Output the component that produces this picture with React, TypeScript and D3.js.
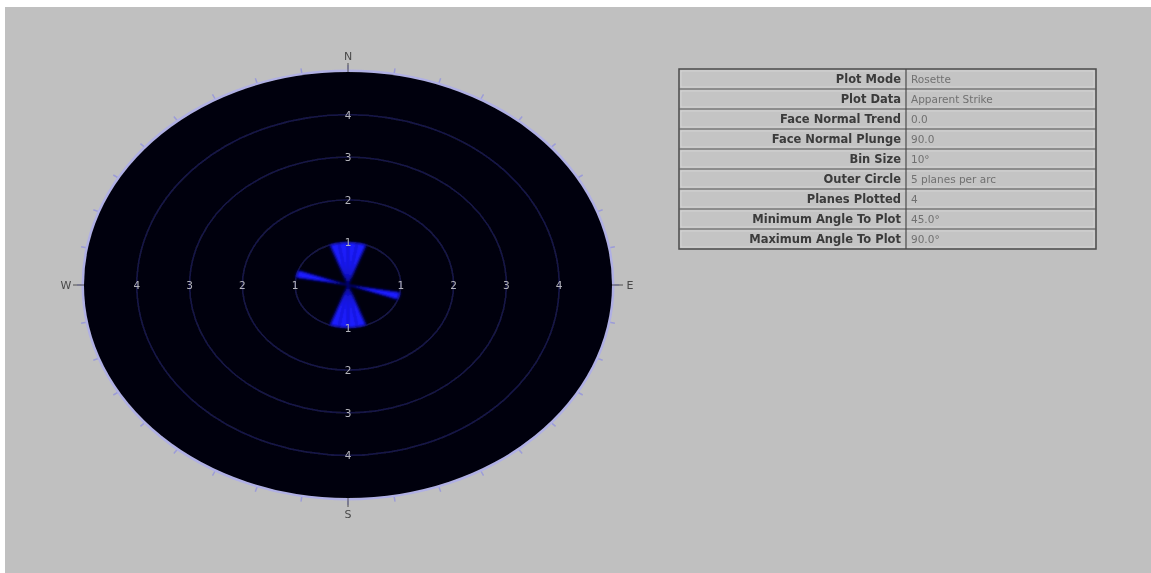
import React from "react";
import * as d3 from "d3";

// Rosette bins: start azimuth (degrees) and plane count per 10° bin
const binStarts = [340, 350, 0, 10, 100, 160, 170, 180, 190, 280];
const binCounts = [1, 1, 1, 1, 1, 1, 1, 1, 1, 1];
const binSize = 10;

// Ring labels (planes per ring)
const ringValues = [1, 2, 3, 4];
const outerValue = 5;

// Compass labels
const compassLabels = ["N", "E", "S", "W"];
const compassAngles = [0, 90, 180, 270];

// Info table
const infoKeys = [
  "Plot Mode",
  "Plot Data",
  "Face Normal Trend",
  "Face Normal Plunge",
  "Bin Size",
  "Outer Circle",
  "Planes Plotted",
  "Minimum Angle To Plot",
  "Maximum Angle To Plot",
];
const infoValues = [
  "Rosette",
  "Apparent Strike",
  "0.0",
  "90.0",
  "10°",
  "5 planes per arc",
  "4",
  "45.0°",
  "90.0°",
];

const W = 1151;
const H = 573;
const cx = 348;
const cy = 285;
const RX = 264;
const RY = 213;

export default function App() {
  const rx = d3.scaleLinear().domain([0, outerValue]).range([0, RX]);
  const ry = d3.scaleLinear().domain([0, outerValue]).range([0, RY]);
  const sx = RX / RY;

  const arc = d3
    .arc<{ a0: number; a1: number; r: number }>()
    .innerRadius(0)
    .outerRadius((d) => d.r)
    .startAngle((d) => d.a0)
    .endAngle((d) => d.a1);

  const toRad = (deg: number) => (deg * Math.PI) / 180;

  const tickAngles = d3.range(0, 360, 10);

  const table = { x: 679, y: 69, w: 417, rowH: 20, split: 906 };
  const font = "'DejaVu Sans', Verdana, sans-serif";

  return (
    <svg
      width={W}
      height={H}
      style={{ position: "absolute", left: 0, top: 0 }}
      fontFamily={font}
    >
      <defs>
        <filter id="soft" x="-10%" y="-10%" width="120%" height="120%">
          <feGaussianBlur stdDeviation="1.2" />
        </filter>
        <filter id="softer" x="-20%" y="-20%" width="140%" height="140%">
          <feGaussianBlur stdDeviation="0.6" />
        </filter>
      </defs>
      <rect x={0} y={0} width={W} height={H} fill="#ffffff" />
      <rect x={5} y={7} width={W - 5} height={H - 7} fill="#c0c0c0" />

      {/* stereonet body */}
      <g filter="url(#softer)">
        {tickAngles.map((a) => {
          const t = toRad(a);
          const x1 = cx + Math.sin(t) * RX;
          const y1 = cy - Math.cos(t) * RY;
          const x2 = cx + Math.sin(t) * (RX + 7);
          const y2 = cy - Math.cos(t) * (RY + 7);
          return (
            <line key={a} x1={x1} y1={y1} x2={x2} y2={y2} stroke="#9c9cd8" strokeWidth={1.5} />
          );
        })}
        <ellipse cx={cx} cy={cy} rx={RX + 2.5} ry={RY + 2.5} fill="#b0b0e4" />
        <ellipse cx={cx} cy={cy} rx={RX} ry={RY} fill="#010108" />
        {ringValues.map((v) => (
          <ellipse
            key={v}
            cx={cx}
            cy={cy}
            rx={rx(v)}
            ry={ry(v)}
            fill="none"
            stroke="#141444"
            strokeWidth={1.8}
          />
        ))}
      </g>

      {/* rosette petals */}
      <g transform={`translate(${cx},${cy}) scale(${sx},1)`} filter="url(#soft)">
        {binStarts.map((s, i) => (
          <path
            key={s}
            d={arc({ a0: toRad(s), a1: toRad(s + binSize), r: ry(binCounts[i]) }) || ""}
            fill="#1a1cff"
            stroke="#06068a"
            strokeWidth={0.8}
          />
        ))}
      </g>

      {/* ring labels */}
      <g fontSize={10.5} fill="#b4b4bc" textAnchor="middle" dominantBaseline="central" filter="url(#softer)">
        {ringValues.map((v) => (
          <g key={v}>
            <text x={cx + rx(v)} y={cy}>{v}</text>
            <text x={cx - rx(v)} y={cy}>{v}</text>
            <text x={cx} y={cy - ry(v)}>{v}</text>
            <text x={cx} y={cy + ry(v)}>{v}</text>
          </g>
        ))}
      </g>

      {/* compass labels */}
      <g fontSize={11} fill="#4a4a4a" textAnchor="middle" dominantBaseline="central" filter="url(#softer)">
        {compassLabels.map((lab, i) => {
          const t = toRad(compassAngles[i]);
          const dx = Math.sin(t);
          const dy = -Math.cos(t);
          const x1 = cx + dx * RX;
          const y1 = cy + dy * RY;
          const lx = cx + dx * (RX + 18);
          const ly = cy + dy * (RY + 16);
          const x2 = cx + dx * (RX + 11);
          const y2 = cy + dy * (RY + 9);
          return (
            <g key={lab}>
              <line x1={x1} y1={y1} x2={x2} y2={y2} stroke="#505050" strokeWidth={1} />
              <text x={lx} y={ly}>{lab}</text>
            </g>
          );
        })}
      </g>

      {/* info table */}
      <g filter="url(#softer)">
        <rect
          x={table.x}
          y={table.y}
          width={table.w}
          height={table.rowH * infoKeys.length}
          fill="#c4c4c4"
          stroke="#4a4a4a"
          strokeWidth={1.5}
        />
        {infoKeys.map((k, i) => {
          const y = table.y + i * table.rowH;
          return (
            <g key={k}>
              {i > 0 && (
                <line x1={table.x} x2={table.x + table.w} y1={y} y2={y} stroke="#555" strokeWidth={1} />
              )}
              <rect x={table.x + 2} y={y + 2} width={table.w - 4} height={table.rowH - 4} fill="none" stroke="#d8d8d8" strokeWidth={0.8} />
              <text
                x={table.split - 5}
                y={y + table.rowH / 2}
                textAnchor="end"
                dominantBaseline="central"
                fontSize={11.5}
                fontWeight="bold"
                fill="#3a3a3a"
              >
                {k}
              </text>
              <text
                x={table.split + 5}
                y={y + table.rowH / 2}
                dominantBaseline="central"
                fontSize={10.5}
                fill="#707070"
              >
                {infoValues[i]}
              </text>
            </g>
          );
        })}
        <line
          x1={table.split}
          x2={table.split}
          y1={table.y}
          y2={table.y + table.rowH * infoKeys.length}
          stroke="#4a4a4a"
          strokeWidth={1.2}
        />
      </g>
    </svg>
  );
}
